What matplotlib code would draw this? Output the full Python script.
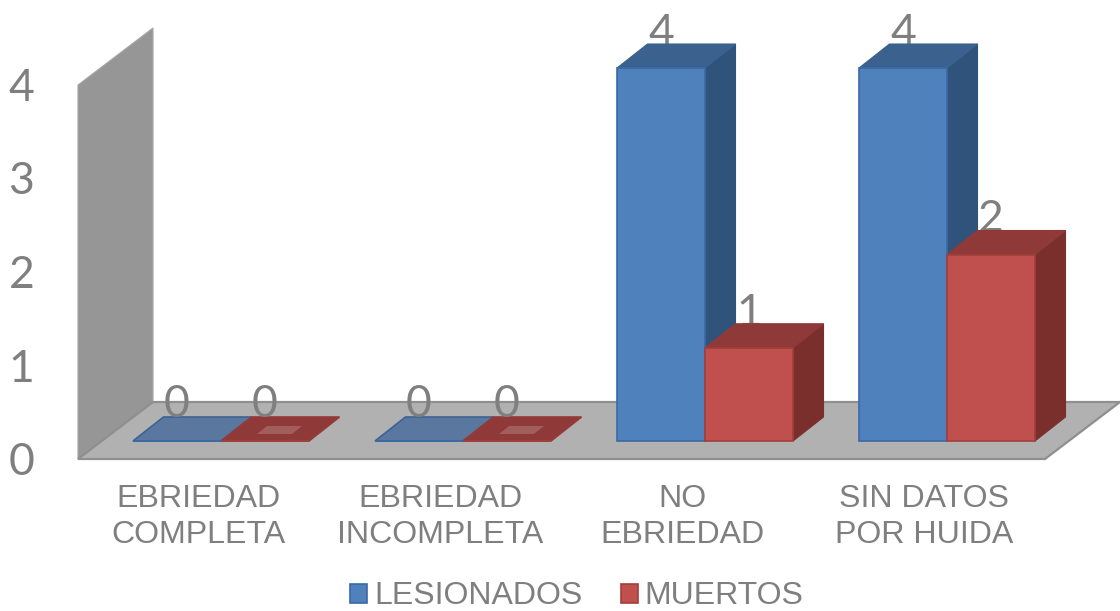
import matplotlib
matplotlib.use("Agg")
import matplotlib.pyplot as plt
from matplotlib.patches import Polygon

categories = ["EBRIEDAD\nCOMPLETA", "EBRIEDAD\nINCOMPLETA", "NO\nEBRIEDAD", "SIN DATOS\nPOR HUIDA"]
lesionados = [0, 0, 4, 4]
muertos = [0, 0, 1, 2]
y_ticks = [0, 1, 2, 3, 4]

# px per data unit in the reference
PX_X = 242.0
PX_Y = 93.25
BAR_W = 88 / PX_X
DX = 30.5 / PX_X
DY = 24 / PX_Y
GRAY = "#7f7f7f"

BLUE = dict(front="#4f81bd", edge="#3a6aa5", top="#3b618f", side="#30537b", flat="#5a789f", flat_edge="#3b6494")
RED = dict(front="#c0504d", edge="#a23f3c", top="#8f3a38", side="#7a2f2d", flat="#8f3a38", flat_edge="#953a38")


def px(p):
    return 2 + (p - 705) / PX_X


def py(p):
    return (441 - p) / PX_Y


fig = plt.figure(figsize=(11.2, 6.11), dpi=100)
ax = fig.add_axes([0, 0, 1, 1])
ax.set_xlim(px(0), px(1120))
ax.set_ylim(py(611), py(0))
ax.axis("off")

# wall and floor
floor_y = py(459)
wall_dx = 75 / PX_X
wall_dy = 57 / PX_Y
left = px(78)
right = px(1045)
wall_top = floor_y + max(y_ticks) * 93.5 / PX_Y
ax.add_patch(Polygon([(left, floor_y), (left + wall_dx, floor_y + wall_dy),
                      (left + wall_dx, wall_top + wall_dy), (left, wall_top)],
                     fc="#969696", ec="#a6a6a6", lw=0.8, zorder=1))
ax.add_patch(Polygon([(left, floor_y), (right, floor_y), (right + wall_dx, floor_y + wall_dy),
                      (left + wall_dx, floor_y + wall_dy)],
                     fc="#b1b1b1", ec="#8f8f8f", lw=1.6, zorder=2))


def draw_bars(xs, values, c, label):
    for x, v in zip(xs, values):
        if v == 0:
            ax.add_patch(Polygon([(x, 0), (x + BAR_W, 0), (x + BAR_W + DX, DY), (x + DX, DY)],
                                 fc=c["flat"], ec=c["flat_edge"], lw=1.2, zorder=3))
            continue
        ax.add_patch(Polygon([(x + BAR_W, 0), (x + BAR_W + DX, DY), (x + BAR_W + DX, v + DY), (x + BAR_W, v)],
                             fc=c["side"], ec=c["side"], lw=0.8, zorder=3))
        ax.add_patch(Polygon([(x, v), (x + BAR_W, v), (x + BAR_W + DX, v + DY), (x + DX, v + DY)],
                             fc=c["top"], ec=c["top"], lw=0.8, zorder=3))
    return ax.bar(xs, values, BAR_W, align="edge", color=c["front"], edgecolor=c["edge"],
                  linewidth=1.2, zorder=4, label=label)


positions = list(range(len(categories)))
h1 = draw_bars([p - BAR_W for p in positions], lesionados, BLUE, "LESIONADOS")
h2 = draw_bars(positions, muertos, RED, "MUERTOS")

# lighter patch in the middle of the flat red bars
for p, v in zip(positions, muertos):
    if v == 0:
        x0 = p + 36 / PX_X
        ax.add_patch(Polygon([(x0, 7 / PX_Y), (x0 + 35 / PX_X, 7 / PX_Y),
                              (x0 + 45 / PX_X, 15 / PX_Y), (x0 + 10 / PX_X, 15 / PX_Y)],
                             fc="#a25e5c", ec="none", zorder=5))


# value labels, the ones on tall bars sit a bit lower and go behind the bar top
def value_label(x, v):
    off = 24 if v == 0 else 22
    ax.text(x, v + off / PX_Y, str(v), color=GRAY, family="Lato", fontsize=32,
            ha="center", va="baseline", zorder=6 if v == 0 else 2.5)


for p, a, b in zip(positions, lesionados, muertos):
    value_label(p - BAR_W / 2, a)
    value_label(p + BAR_W / 2, b)

# axis labels
for t in y_ticks:
    ax.text(px(21.5), floor_y + t * 93.5 / PX_Y - 16 / PX_Y, str(t), color=GRAY, family="Lato", fontsize=32,
            ha="center", va="baseline")
for p, name in zip(positions, categories):
    ax.text(p - 23 / PX_X, py(517), name, color=GRAY, family="Liberation Sans", fontsize=23.1,
            ha="center", va="center", linespacing=1.26)

ax.legend([h1, h2], ["LESIONADOS", "MUERTOS"], loc="center", bbox_to_anchor=(577 / 1120, 1 - 596.5 / 611),
          ncol=2, frameon=False, prop={"family": "Liberation Sans", "size": 23}, labelcolor=GRAY,
          handlelength=0.53, handleheight=0.53, handletextpad=0.22, columnspacing=1.19, borderpad=0, borderaxespad=0)

fig.savefig("out.png", dpi=100)
